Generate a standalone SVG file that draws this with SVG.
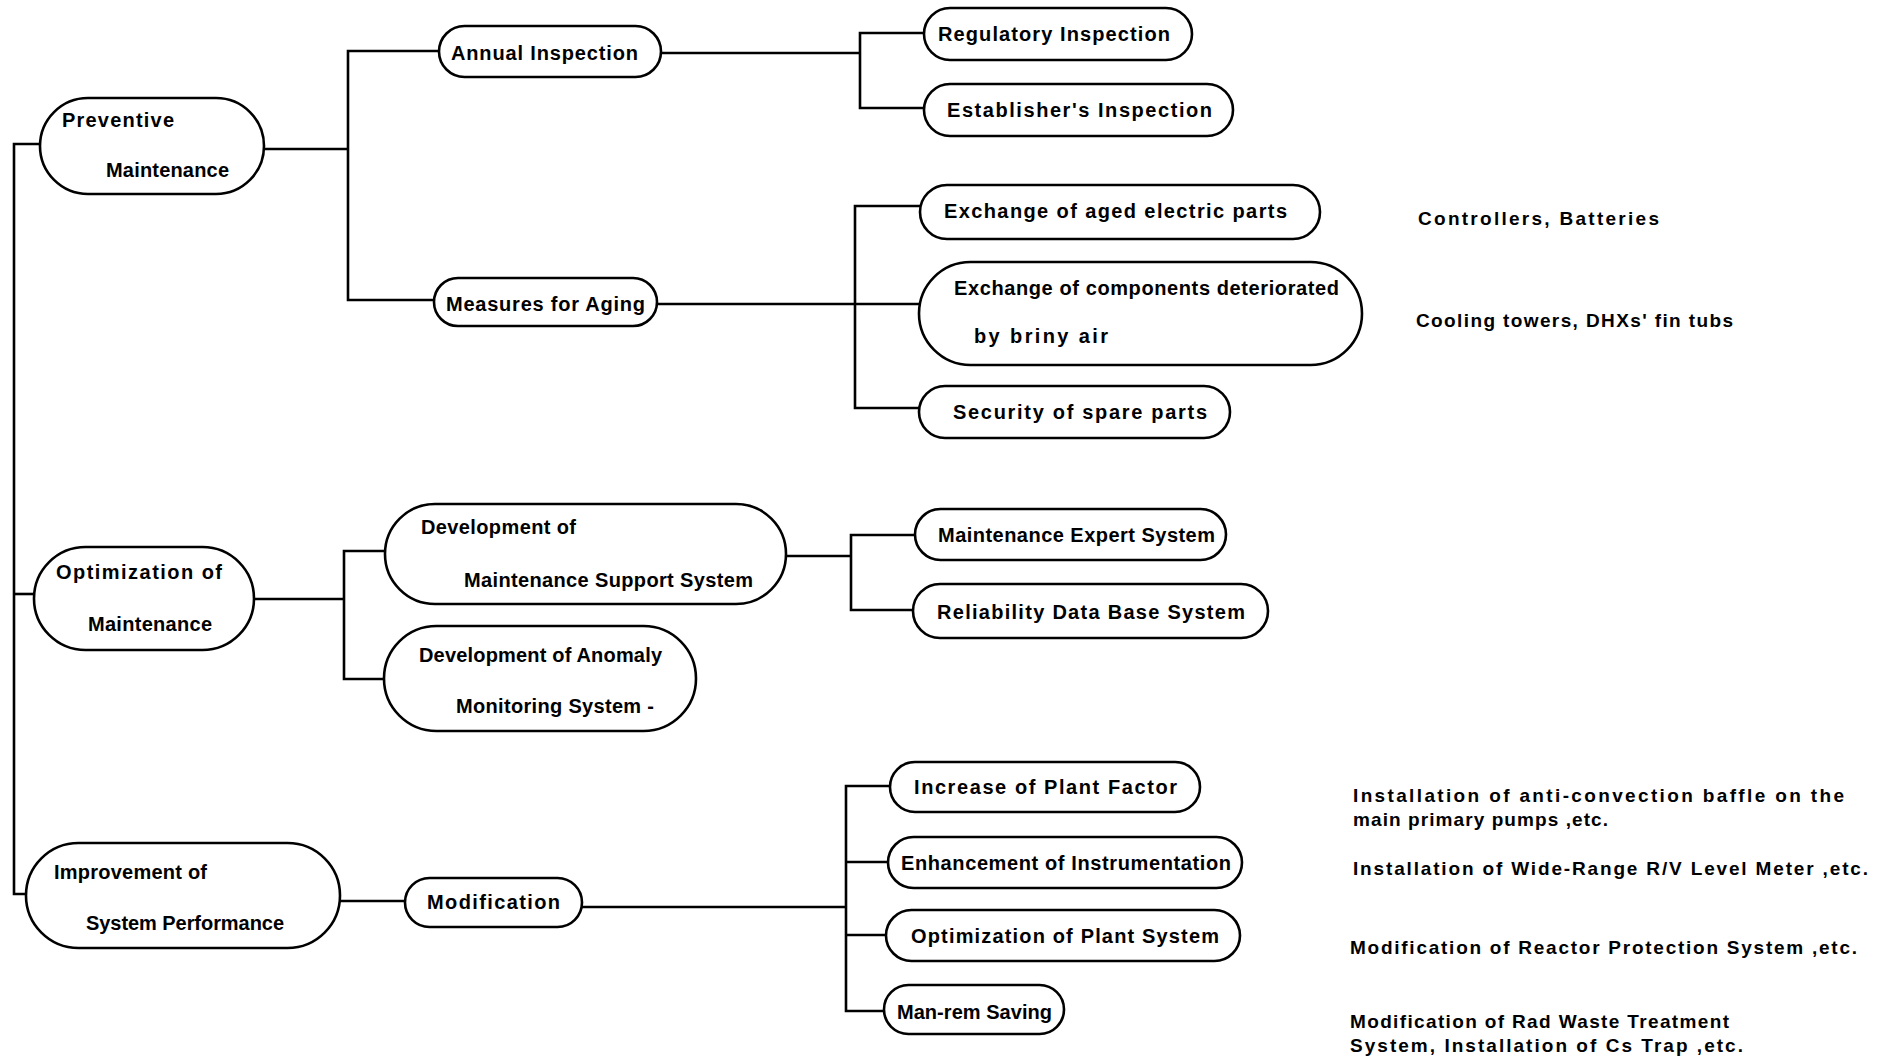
<svg xmlns="http://www.w3.org/2000/svg" width="1881" height="1061" viewBox="0 0 1881 1061">
<style>
.bg{fill:#fff}
.node rect{fill:#fff;stroke:#000;stroke-width:2.6}
text{font-family:"Liberation Sans Narrow","Liberation Sans",Arial,sans-serif;font-weight:bold;font-size:20px;fill:#000}
.ann text{font-size:19px}
#connectors path{fill:none;stroke:#000;stroke-width:2.6}
</style>
<rect class="bg" x="0" y="0" width="1881" height="1061"/>
<g id="connectors">
<path d="M40,144 H14 V894 H26"/>
<path d="M14,594 H34"/>
<path d="M264,149 H348"/>
<path d="M439,51 H348 V300 H434"/>
<path d="M661,53 H860"/>
<path d="M924,33 H860 V108 H924"/>
<path d="M657,304 H919"/>
<path d="M920,206 H855 V408 H919"/>
<path d="M254,599 H344"/>
<path d="M385,551 H344 V679 H384"/>
<path d="M786,556 H851"/>
<path d="M915,535 H851 V610 H913"/>
<path d="M340,901 H405"/>
<path d="M582,907 H846"/>
<path d="M890,786 H846 V1011 H884"/>
<path d="M846,862 H888"/>
<path d="M846,935 H886"/>
</g>
<g id="n-preventive" class="node"><rect x="40" y="98" width="224" height="96" rx="48"/><text x="62" y="127" textLength="112" lengthAdjust="spacing">Preventive</text><text x="106" y="177" textLength="123" lengthAdjust="spacing">Maintenance</text></g>
<g id="n-annual" class="node"><rect x="439" y="26" width="222" height="51" rx="25.5"/><text x="451" y="60" textLength="187" lengthAdjust="spacing">Annual Inspection</text></g>
<g id="n-aging" class="node"><rect x="434" y="278" width="223" height="48" rx="24"/><text x="446" y="311" textLength="199" lengthAdjust="spacing">Measures for Aging</text></g>
<g id="n-regulatory" class="node"><rect x="924" y="8" width="268" height="52" rx="26"/><text x="938" y="41" textLength="232" lengthAdjust="spacing">Regulatory Inspection</text></g>
<g id="n-establisher" class="node"><rect x="924" y="84" width="309" height="52" rx="26"/><text x="947" y="117" textLength="265" lengthAdjust="spacing">Establisher's Inspection</text></g>
<g id="n-electric" class="node"><rect x="920" y="185" width="400" height="54" rx="27"/><text x="944" y="218" textLength="343" lengthAdjust="spacing">Exchange of aged electric parts</text></g>
<g id="n-briny" class="node"><rect x="919" y="262" width="443" height="103" rx="51.5"/><text x="954" y="295" textLength="385" lengthAdjust="spacing">Exchange of components deteriorated</text><text x="974" y="343" textLength="134" lengthAdjust="spacing">by briny air</text></g>
<g id="n-spare" class="node"><rect x="919" y="386" width="311" height="52" rx="26"/><text x="953" y="419" textLength="254" lengthAdjust="spacing">Security of spare parts</text></g>
<g id="n-optimization" class="node"><rect x="34" y="547" width="220" height="103" rx="51.5"/><text x="56" y="579" textLength="166" lengthAdjust="spacing">Optimization of</text><text x="88" y="631" textLength="124" lengthAdjust="spacing">Maintenance</text></g>
<g id="n-support" class="node"><rect x="385" y="504" width="401" height="100" rx="50"/><text x="421" y="534" textLength="155" lengthAdjust="spacing">Development of</text><text x="464" y="587" textLength="289" lengthAdjust="spacing">Maintenance Support System</text></g>
<g id="n-anomaly" class="node"><rect x="384" y="626" width="312" height="105" rx="52.5"/><text x="419" y="662" textLength="243" lengthAdjust="spacing">Development of Anomaly</text><text x="456" y="713" textLength="198" lengthAdjust="spacing">Monitoring System -</text></g>
<g id="n-expert" class="node"><rect x="915" y="509" width="311" height="51" rx="25.5"/><text x="938" y="542" textLength="277" lengthAdjust="spacing">Maintenance Expert System</text></g>
<g id="n-reliability" class="node"><rect x="913" y="584" width="355" height="54" rx="27"/><text x="937" y="619" textLength="308" lengthAdjust="spacing">Reliability Data Base System</text></g>
<g id="n-improvement" class="node"><rect x="26" y="843" width="314" height="105" rx="52.5"/><text x="54" y="879" textLength="153" lengthAdjust="spacing">Improvement of</text><text x="86" y="930" textLength="198" lengthAdjust="spacing">System Performance</text></g>
<g id="n-modification" class="node"><rect x="405" y="878" width="177" height="49" rx="24.5"/><text x="427" y="909" textLength="133" lengthAdjust="spacing">Modification</text></g>
<g id="n-plantfactor" class="node"><rect x="890" y="762" width="310" height="50" rx="25"/><text x="914" y="794" textLength="263" lengthAdjust="spacing">Increase of Plant Factor</text></g>
<g id="n-instrumentation" class="node"><rect x="888" y="837" width="354" height="51" rx="25.5"/><text x="901" y="870" textLength="330" lengthAdjust="spacing">Enhancement of Instrumentation</text></g>
<g id="n-plantsystem" class="node"><rect x="886" y="910" width="354" height="51" rx="25.5"/><text x="911" y="943" textLength="308" lengthAdjust="spacing">Optimization of Plant System</text></g>
<g id="n-manrem" class="node"><rect x="884" y="985" width="180" height="49" rx="24.5"/><text x="897" y="1019" textLength="155" lengthAdjust="spacing">Man-rem Saving</text></g>
<g id="annotations" class="ann">
<text x="1418" y="225" textLength="241" lengthAdjust="spacing">Controllers, Batteries</text>
<text x="1416" y="327" textLength="317" lengthAdjust="spacing">Cooling towers, DHXs' fin tubs</text>
<text x="1353" y="802" textLength="491" lengthAdjust="spacing">Installation of anti-convection baffle on the</text>
<text x="1353" y="826" textLength="255" lengthAdjust="spacing">main primary pumps ,etc.</text>
<text x="1353" y="875" textLength="515" lengthAdjust="spacing">Installation of Wide-Range R/V Level Meter ,etc.</text>
<text x="1350" y="954" textLength="507" lengthAdjust="spacing">Modification of Reactor Protection System ,etc.</text>
<text x="1350" y="1028" textLength="379" lengthAdjust="spacing">Modification of Rad Waste Treatment</text>
<text x="1350" y="1052" textLength="393" lengthAdjust="spacing">System, Installation of Cs Trap ,etc.</text>
</g>
</svg>
